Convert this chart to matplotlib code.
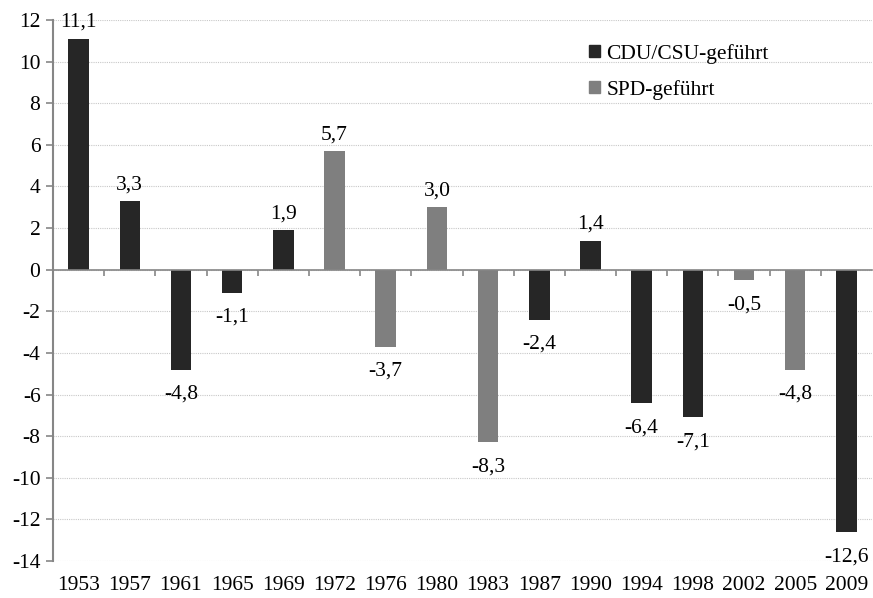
import numpy as np
from matplotlib import pyplot as plt
from matplotlib.patches import Patch

##########
# Data   #
##########

years = ['1953', '1957', '1961', '1965', '1969', '1972', '1976', '1980',
         '1983', '1987', '1990', '1994', '1998', '2002', '2005', '2009']
values = [11.1, 3.3, -4.8, -1.1, 1.9, 5.7, -3.7, 3.0,
          -8.3, -2.4, 1.4, -6.4, -7.1, -0.5, -4.8, -12.6]
party = ['CDU', 'CDU', 'CDU', 'CDU', 'CDU', 'SPD', 'SPD', 'SPD',
         'SPD', 'CDU', 'CDU', 'CDU', 'CDU', 'SPD', 'SPD', 'CDU']
legend_labels = ['CDU/CSU-geführt', 'SPD-geführt']

##########
# Style  #
##########

colors = {'CDU': '#262626', 'SPD': '#7f7f7f'}
fs = 15.5
plt.rcParams['font.family'] = ['Liberation Serif', 'DejaVu Serif']
plt.rcParams['axes.unicode_minus'] = False

fig = plt.figure(figsize=(8.73, 5.98), dpi=100)
ax = fig.add_axes([53 / 873, 37 / 598, 819 / 873, 541 / 598])

x = np.arange(len(years))
bar_colors = [colors[p] for p in party]
ax.bar(x, values, width=0.4, color=bar_colors, zorder=3)

for xi, v in zip(x, values):
    txt = f"{v:.1f}".replace('.', ',')
    if v >= 0:
        ax.annotate(txt, (xi, v), xytext=(0, 5), textcoords='offset points',
                    ha='center', va='bottom', fontsize=fs)
    else:
        ax.annotate(txt, (xi, v), xytext=(0, -11), textcoords='offset points',
                    ha='center', va='top', fontsize=fs)

ax.set_xlim(-0.5, len(years) - 0.5)
ax.set_ylim(-14, 12)
ax.set_yticks(np.arange(-14, 13, 2))
ax.tick_params(axis='y', labelsize=fs, length=5, color='#868686', width=1.2, pad=4)
ax.yaxis.grid(True, linestyle=(0, (1, 1)), color='#c8c8c8', linewidth=0.8)
ax.set_axisbelow(True)

for s in ['top', 'right']:
    ax.spines[s].set_visible(False)
ax.spines['left'].set_color('#868686')
ax.spines['left'].set_linewidth(1.5)

# category axis at zero, with small ticks between bars
ax.spines['bottom'].set_position(('data', 0))
ax.spines['bottom'].set_color('#868686')
ax.spines['bottom'].set_linewidth(1.2)
ax.spines['bottom'].set_zorder(4)
ax.set_xticks(np.arange(0.5, len(years) - 0.5, 1))
ax.tick_params(axis='x', length=4, color='#868686', width=1.2, labelbottom=False)

# year labels along the bottom
sec = ax.secondary_xaxis('bottom')
sec.set_xticks(x)
sec.set_xticklabels(years)
sec.tick_params(length=0, labelsize=fs, pad=11)
sec.spines['bottom'].set_visible(False)

handles = [Patch(color=colors['CDU']), Patch(color=colors['SPD'])]
ax.legend(handles, legend_labels, loc='upper left', frameon=False,
          fontsize=fs, bbox_to_anchor=(0.631, 0.992), handlelength=0.5,
          handleheight=0.5, handletextpad=0.3, labelspacing=0.75)

fig.savefig('out.png', dpi=100)
